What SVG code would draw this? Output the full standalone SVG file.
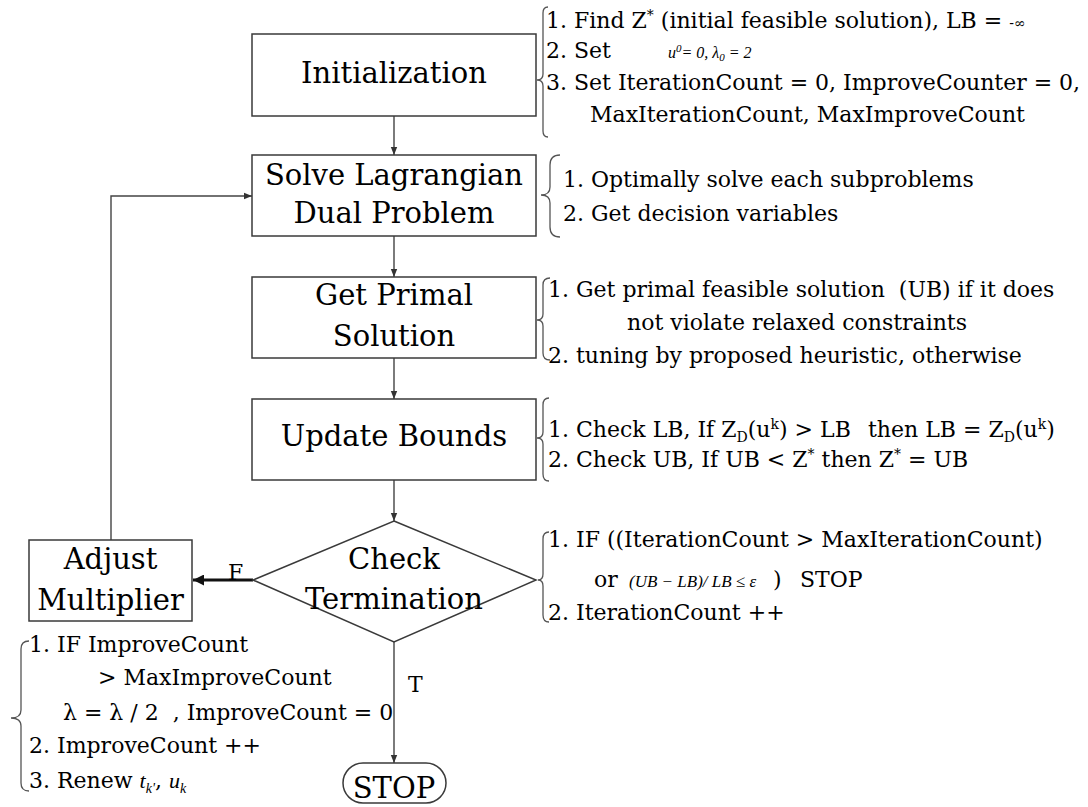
<svg xmlns="http://www.w3.org/2000/svg" width="1088" height="807" viewBox="0 0 1088 807">
<style>
.box{fill:#fff;stroke:#3a3a3a;stroke-width:1.5}
.t{font-family:"DejaVu Serif","Liberation Serif",serif;font-size:29px;fill:#000;text-anchor:middle}
.s{font-family:"DejaVu Serif","Liberation Serif",serif;font-size:22px;fill:#000;white-space:pre}
.m{font-family:"Liberation Serif",serif;font-style:italic}
.c{fill:none;stroke:#444;stroke-width:1.4}
.br{fill:none;stroke:#555;stroke-width:1.3}
</style>
<defs>
<marker id="ah" viewBox="0 0 10 10" refX="10" refY="5" markerWidth="9" markerHeight="8" orient="auto" markerUnits="userSpaceOnUse"><path d="M0,1 L10,5 L0,9 z" fill="#333"/></marker>
<marker id="ahb" viewBox="0 0 10 10" refX="10" refY="5" markerWidth="12" markerHeight="11" orient="auto" markerUnits="userSpaceOnUse"><path d="M0,0 L10,5 L0,10 z" fill="#111"/></marker>
</defs>
<rect x="0" y="0" width="1088" height="807" fill="#fff"/>

<g id="connectors">
<line class="c" x1="394" y1="116" x2="394" y2="155" marker-end="url(#ah)"/>
<line class="c" x1="394" y1="236" x2="394" y2="277" marker-end="url(#ah)"/>
<line class="c" x1="394" y1="358" x2="394" y2="399" marker-end="url(#ah)"/>
<line class="c" x1="394" y1="480" x2="394" y2="521" marker-end="url(#ah)"/>
<line class="c" x1="394" y1="642" x2="394" y2="763" marker-end="url(#ah)"/>
<line x1="253" y1="580" x2="193" y2="580" stroke="#111" stroke-width="3" marker-end="url(#ahb)"/>
<polyline class="c" points="111,540 111,196 252,196" marker-end="url(#ah)"/>
<text class="s" x="228" y="580">F</text>
<text class="s" x="408" y="692">T</text>
</g>

<g id="init">
<rect class="box" x="252" y="34" width="284" height="82"/>
<text class="t" x="394" y="83">Initialization</text>
<path class="br" d="M548,7 Q543,7 543,13 L543,74 Q543,80 537,80 Q543,80 543,86 L543,131 Q543,137 548,137"/>
<text class="s" x="546" y="28">1. Find Z<tspan font-size="14" baseline-shift="8">*</tspan> (initial feasible solution), LB = <tspan font-size="14">-∞</tspan></text>
<text class="s" x="546" y="58">2. Set</text>
<text class="m" x="668" y="58" font-size="16">u<tspan font-size="11" baseline-shift="6">0</tspan>= 0, λ<tspan font-size="11" baseline-shift="-3">0</tspan> = 2</text>
<text class="s" x="546" y="90">3. Set IterationCount = 0, ImproveCounter = 0,</text>
<text class="s" x="590" y="122">MaxIterationCount, MaxImproveCount</text>
</g>

<g id="solve">
<rect class="box" x="252" y="155" width="284" height="81"/>
<text class="t" x="394" y="185">Solve Lagrangian</text>
<text class="t" x="394" y="223">Dual Problem</text>
<path class="br" d="M560,155 Q550,155 550,165 L550,187 Q550,195 541,195 Q550,195 550,203 L550,227 Q550,237 560,237"/>
<text class="s" x="563" y="187">1. Optimally solve each subproblems</text>
<text class="s" x="563" y="221">2. Get decision variables</text>
</g>

<g id="primal">
<rect class="box" x="252" y="277" width="284" height="81"/>
<text class="t" x="394" y="305">Get Primal</text>
<text class="t" x="394" y="346">Solution</text>
<path class="br" d="M550,278 Q543,278 543,285 L543,314 Q543,320 537,320 Q543,320 543,326 L543,353 Q543,360 550,360"/>
<text class="s" x="548" y="297">1. Get primal feasible solution  (UB) if it does</text>
<text class="s" x="627" y="330">not violate relaxed constraints</text>
<text class="s" x="548" y="363">2. tuning by proposed heuristic, otherwise</text>
</g>

<g id="update">
<rect class="box" x="252" y="399" width="284" height="81"/>
<text class="t" x="394" y="446">Update Bounds</text>
<path class="br" d="M549,398 Q543,398 543,405 L543,432 Q543,438 537,438 Q543,438 543,444 L543,474 Q543,481 549,481"/>
<text class="s" x="548" y="437">1. Check LB, If Z<tspan font-size="14" baseline-shift="-5">D</tspan>(u<tspan font-size="14" baseline-shift="8">k</tspan>) &gt; LB</text>
<text class="s" x="868" y="437">then LB = Z<tspan font-size="14" baseline-shift="-5">D</tspan>(u<tspan font-size="14" baseline-shift="8">k</tspan>)</text>
<text class="s" x="548" y="467">2. Check UB, If UB &lt; Z<tspan font-size="14" baseline-shift="8">*</tspan> then Z<tspan font-size="14" baseline-shift="8">*</tspan> = UB</text>
</g>

<g id="check">
<polygon class="box" points="394,521 536,580 394,642 253,580"/>
<text class="t" x="394" y="569" font-size="30">Check</text>
<text class="t" x="394" y="609" font-size="30">Termination</text>
<path class="br" d="M549,532 Q543,532 543,539 L543,574 Q543,580 538,580 Q543,580 543,586 L543,615 Q543,622 549,622"/>
<text class="s" x="548" y="547">1. IF ((IterationCount &gt; MaxIterationCount)</text>
<text class="s" x="594" y="587">or</text>
<text class="m" x="629" y="587" font-size="17">(UB − LB)/ LB ≤ ε</text>
<text class="s" x="773" y="587">)</text>
<text class="s" x="800" y="587">STOP</text>
<text class="s" x="548" y="620">2. IterationCount ++</text>
</g>

<g id="adjust">
<rect class="box" x="29" y="540" width="163" height="81"/>
<text class="t" x="110.5" y="569" font-size="30">Adjust</text>
<text class="t" x="110.5" y="610" font-size="30">Multiplier</text>
<path class="br" d="M29,641 Q21,641 21,649 L21,710 Q21,718 11,718 Q21,718 21,726 L21,783 Q21,791 29,791"/>
<text class="s" x="29" y="652">1. IF ImproveCount</text>
<text class="s" x="98" y="685">&gt; MaxImproveCount</text>
<text class="s" x="63" y="720">λ = λ / 2  , ImproveCount = 0</text>
<text class="s" x="29" y="753">2. ImproveCount ++</text>
<text class="s" x="29" y="788">3. Renew <tspan class="m">t</tspan><tspan class="m" font-size="14" baseline-shift="-5">k'</tspan>, <tspan class="m">u</tspan><tspan class="m" font-size="14" baseline-shift="-5">k</tspan></text>
</g>

<g id="stop">
<rect class="box" x="343" y="763" width="103" height="40" rx="20" ry="20"/>
<text class="t" x="394" y="798" font-size="28">STOP</text>
</g>
</svg>
